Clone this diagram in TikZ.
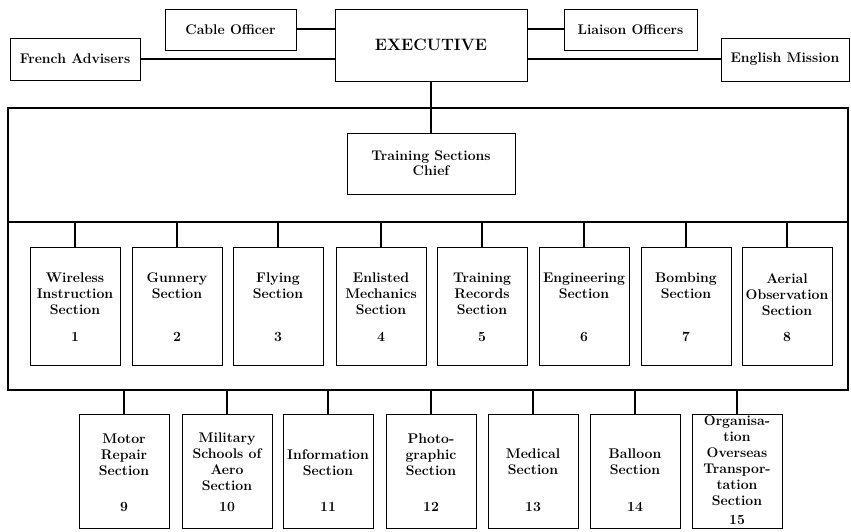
\documentclass[tikz,border=0pt]{standalone}
\usepackage{tikz}

\begin{document}
\begin{tikzpicture}[x=1pt,y=-1pt,
    box/.style={draw,line width=0.8pt,inner sep=0pt},
    lbl/.style={font=\fontsize{14}{16}\selectfont\bfseries,align=center,inner sep=0pt},
    upbox/.style={box,minimum width=90pt,minimum height=118pt},
    lowbox/.style={box,minimum width=90pt,minimum height=114pt},
    link/.style={line width=2pt}]
    \useasboundingbox(0,0)rectangle(851,532);

    \node[box,minimum width=192pt,minimum height=72pt,font=\fontsize{16.5}{18}\selectfont\bfseries](exec)at(431,45){EXECUTIVE};
    \node[box,lbl,minimum width=131pt,minimum height=41pt](cable)at(230.5,29.5){Cable Officer};
    \node[box,lbl,minimum width=130pt,minimum height=42pt](french)at(75,59){French Advisers};
    \node[box,lbl,minimum width=133pt,minimum height=41pt](liaison)at(630.5,29.5){Liaison Officers};
    \node[box,lbl,minimum width=128pt,minimum height=43pt](english)at(785,59.5){English Mission};
    \draw[link](cable.east)--(cable.east-|exec.west);
    \draw[link](french.east)--(french.east-|exec.west);
    \draw[link](liaison.west)--(liaison.west-|exec.east);
    \draw[link](english.west)--(english.west-|exec.east);

    \node[draw,link,inner sep=0pt,minimum width=840pt,minimum height=282pt](frame)at(428,249){};
    \node[box,lbl,minimum width=168pt,minimum height=61pt,font=\fontsize{14}{15}\selectfont\bfseries](chief)at(431,163.5){Training Sections\\Chief};
    \draw[link](exec.south)--(chief.north);
    \coordinate(busl)at(8,222);
    \coordinate(busr)at(848,222);
    \draw[link](busl)--(busr);

    \node[upbox](s1)at(75,306){};
    \node[lbl,anchor=north](t1)at(75,273){Wireless\\Instruction\\Section};
    \node[lbl](n1)at(75,337){1};
    \node[upbox](s2)at(177,306){};
    \node[lbl,anchor=north](t2)at(177,273){Gunnery\\Section};
    \node[lbl](n2)at(177,337){2};
    \node[upbox](s3)at(278,306){};
    \node[lbl,anchor=north](t3)at(278,273){Flying\\Section};
    \node[lbl](n3)at(278,337){3};
    \node[upbox](s4)at(381,306){};
    \node[lbl,anchor=north](t4)at(381,273){Enlisted\\Mechanics\\Section};
    \node[lbl](n4)at(381,337){4};
    \node[upbox](s5)at(482,306){};
    \node[lbl,anchor=north](t5)at(482,273){Training\\Records\\Section};
    \node[lbl](n5)at(482,337){5};
    \node[upbox](s6)at(584,306){};
    \node[lbl,anchor=north](t6)at(584,273){Engineering\\Section};
    \node[lbl](n6)at(584,337){6};
    \node[upbox](s7)at(686,306){};
    \node[lbl,anchor=north](t7)at(686,273){Bombing\\Section};
    \node[lbl](n7)at(686,337){7};
    \node[upbox](s8)at(787,306){};
    \node[lbl,anchor=north](t8)at(787,273){Aerial\\Observation\\Section};
    \node[lbl](n8)at(787,337){8};
    \draw[link](s1.north)--(s1.north|-busl);
    \draw[link](s2.north)--(s2.north|-busl);
    \draw[link](s3.north)--(s3.north|-busl);
    \draw[link](s4.north)--(s4.north|-busl);
    \draw[link](s5.north)--(s5.north|-busl);
    \draw[link](s6.north)--(s6.north|-busl);
    \draw[link](s7.north)--(s7.north|-busl);
    \draw[link](s8.north)--(s8.north|-busl);

    \node[lowbox](s9)at(124,471){};
    \node[lbl,anchor=north](t9)at(124,434){Motor\\Repair\\Section};
    \node[lbl](n9)at(124,507){9};
    \node[lowbox](s10)at(227,471){};
    \node[lbl,anchor=north](t10)at(227,433){Military\\Schools of\\Aero\\Section};
    \node[lbl](n10)at(227,507){10};
    \node[lowbox](s11)at(328,471){};
    \node[lbl,anchor=north](t11)at(328,449){Information\\Section};
    \node[lbl](n11)at(328,507){11};
    \node[lowbox](s12)at(431,471){};
    \node[lbl,anchor=north](t12)at(431,434){Photo-\\graphic\\Section};
    \node[lbl](n12)at(431,507){12};
    \node[lowbox](s13)at(533,471){};
    \node[lbl,anchor=north](t13)at(533,449){Medical\\Section};
    \node[lbl](n13)at(533,507){13};
    \node[lowbox](s14)at(635,471){};
    \node[lbl,anchor=north](t14)at(635,449){Balloon\\Section};
    \node[lbl](n14)at(635,507){14};
    \node[lowbox](s15)at(737,471){};
    \node[lbl,anchor=north](t15)at(737,416){Organisa-\\tion\\Overseas\\Transpor-\\tation\\Section};
    \node[lbl](n15)at(737,520){15};
    \draw[link](s9.north)--(s9.north|-frame.south);
    \draw[link](s10.north)--(s10.north|-frame.south);
    \draw[link](s11.north)--(s11.north|-frame.south);
    \draw[link](s12.north)--(s12.north|-frame.south);
    \draw[link](s13.north)--(s13.north|-frame.south);
    \draw[link](s14.north)--(s14.north|-frame.south);
    \draw[link](s15.north)--(s15.north|-frame.south);
\end{tikzpicture}
\end{document}
